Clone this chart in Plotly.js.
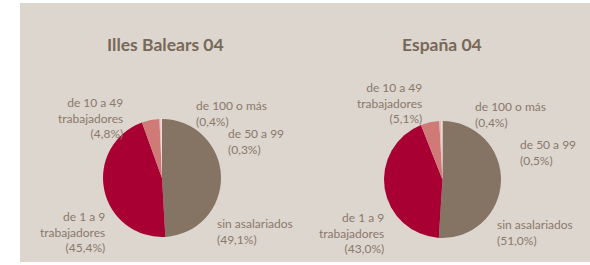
<!DOCTYPE html>
<html>
<head>
<meta charset="utf-8">
<script src="https://cdn.plot.ly/plotly-3.0.1.min.js"></script>
<style>html,body{margin:0;padding:0;background:#fff;}#chart{width:590px;height:265px;}</style>
</head>
<body>
<div id="chart"></div>
<script>
// ---- data ----
var categories = ["sin asalariados", "de 1 a 9<br>trabajadores", "de 10 a 49<br>trabajadores", "de 50 a 99", "de 100 o más"];
var balearesValues = [49.1, 45.4, 4.8, 0.3, 0.4];
var espanaValues = [51.0, 43.0, 5.1, 0.5, 0.4];
var chartTitles = ["Illes Balears 04", "España 04"];
var sliceColors = ["#857464", "#A80032", "#D07A78", "#E9B9B4", "#F3DCDA"];

function fmt(v) { return "(" + v.toFixed(1).replace(".", ",") + "%)"; }

var W = 590, H = 265;
function px(x) { return x / W; }
function py(y) { return 1 - y / H; }

// label placement (pixels): [x, yTop, anchor]
var labelPos1 = [[215, 214, "left"], [107, 207, "right"], [125, 93, "right"], [226, 124, "left"], [194, 96, "left"]];
var labelPos2 = [[495, 215, "left"], [386, 208, "right"], [424, 78, "right"], [518, 135, "left"], [473, 97, "left"]];

var textColor = "#8A786A";
var font = "Lato, 'Open Sans', sans-serif";

function pieTrace(values, x0, x1, y0, y1) {
  return {
    type: "pie",
    labels: categories,
    values: values,
    sort: false,
    direction: "clockwise",
    rotation: 0,
    textinfo: "none",
    hoverinfo: "none",
    showlegend: false,
    marker: { colors: sliceColors, line: { width: 0 } },
    domain: { x: [px(x0), px(x1)], y: [py(y1), py(y0)] }
  };
}

var data = [
  pieTrace(balearesValues, 103, 221, 119, 237),
  pieTrace(espanaValues, 383, 502, 121, 238)
];

var annotations = [];
function addLabels(values, pos) {
  for (var i = 0; i < categories.length; i++) {
    annotations.push({
      xref: "paper", yref: "paper",
      x: px(pos[i][0]), y: py(pos[i][1]),
      xanchor: pos[i][2], yanchor: "top",
      align: pos[i][2],
      text: categories[i] + "<br>" + fmt(values[i]),
      showarrow: false,
      font: { family: font, size: 12, color: textColor }
    });
  }
}
addLabels(balearesValues, labelPos1);
addLabels(espanaValues, labelPos2);

annotations.push({ xref: "paper", yref: "paper", x: px(165), y: py(45), xanchor: "center", yanchor: "middle",
  text: "<b>" + chartTitles[0] + "</b>", showarrow: false, font: { family: font, size: 17.5, color: "#786858" } });
annotations.push({ xref: "paper", yref: "paper", x: px(442), y: py(45), xanchor: "center", yanchor: "middle",
  text: "<b>" + chartTitles[1] + "</b>", showarrow: false, font: { family: font, size: 17.5, color: "#786858" } });

var layout = {
  width: W, height: H,
  margin: { l: 0, r: 0, t: 0, b: 0 },
  paper_bgcolor: "#ffffff",
  plot_bgcolor: "rgba(0,0,0,0)",
  showlegend: false,
  shapes: [
    { type: "rect", xref: "paper", yref: "paper", x0: px(20), x1: 1, y0: py(262), y1: py(3),
      fillcolor: "#DDD6CF", line: { width: 0 }, layer: "below" }
  ],
  annotations: annotations
};

Plotly.newPlot("chart", data, layout, { staticPlot: true, displayModeBar: false });
</script>
</body>
</html>
